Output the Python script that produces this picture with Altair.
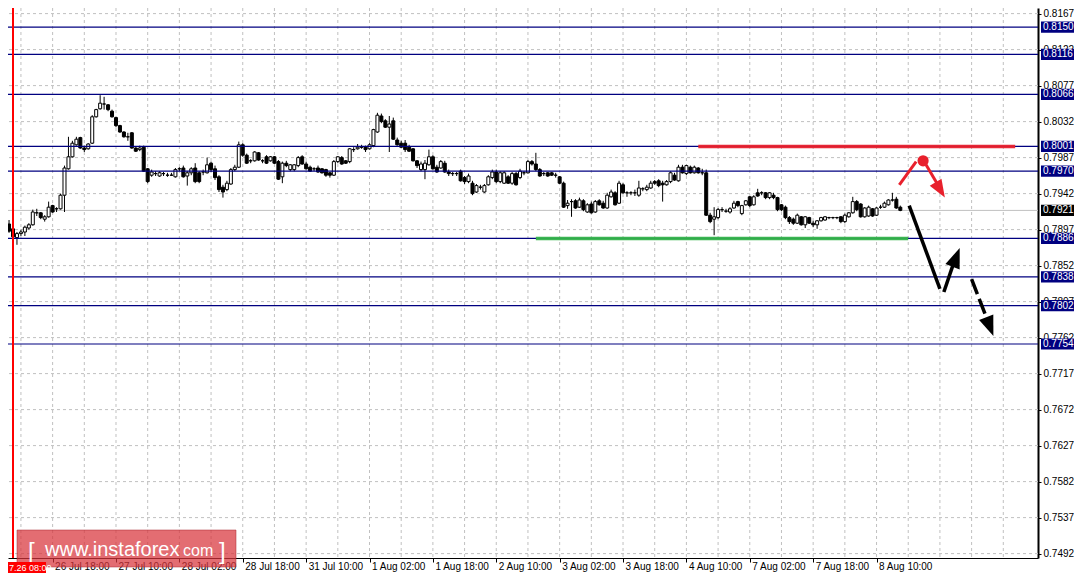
import json
import altair as alt
import pandas as pd

# ---------------- data (H1 bars, index 0 = 26 Jul 07:00) ----------------
OPEN = [
    0.7904, 0.7898, 0.7887, 0.7892, 0.7894, 0.7899, 0.7903, 0.7918, 0.7918, 0.7910,
    0.7913, 0.7927, 0.7923, 0.7923, 0.7940, 0.7973, 0.7988, 0.8003, 0.8012, 0.7999,
    0.7998, 0.8005, 0.8038, 0.8048, 0.8054, 0.8053, 0.8045, 0.8037, 0.8027, 0.8019,
    0.8013, 0.8018, 0.7999, 0.7997, 0.8000, 0.7973, 0.7965, 0.7967, 0.7964, 0.7967,
    0.7965, 0.7965, 0.7963, 0.7973, 0.7974, 0.7964, 0.7968, 0.7974, 0.7968, 0.7969,
    0.7968, 0.7980, 0.7973, 0.7963, 0.7950, 0.7947, 0.7954, 0.7972, 0.7975, 0.8003,
    0.7990, 0.7983, 0.7983, 0.7993, 0.7983, 0.7988, 0.7983, 0.7988, 0.7982, 0.7963,
    0.7980, 0.7972, 0.7972, 0.7977, 0.7988, 0.7979, 0.7975, 0.7973, 0.7974, 0.7973,
    0.7972, 0.7968, 0.7965, 0.7982, 0.7987, 0.7983, 0.7982, 0.7997, 0.7998, 0.8000,
    0.8000, 0.7998, 0.8002, 0.8019, 0.8039, 0.8033, 0.8025, 0.8033, 0.8009, 0.8005,
    0.8005, 0.8000, 0.7998, 0.7983, 0.7972, 0.7972, 0.7978, 0.7988, 0.7975, 0.7974,
    0.7980, 0.7969, 0.7967, 0.7967, 0.7970, 0.7962, 0.7957, 0.7955, 0.7944, 0.7950,
    0.7944, 0.7953, 0.7962, 0.7969, 0.7957, 0.7955, 0.7963, 0.7955, 0.7967, 0.7962,
    0.7968, 0.7968, 0.7982, 0.7979, 0.7972, 0.7967, 0.7968, 0.7968, 0.7965, 0.7963,
    0.7955, 0.7927, 0.7932, 0.7933, 0.7925, 0.7933, 0.7919, 0.7929, 0.7919, 0.7933,
    0.7930, 0.7924, 0.7938, 0.7943, 0.7930, 0.7953, 0.7943, 0.7943, 0.7943, 0.7940,
    0.7948, 0.7947, 0.7949, 0.7957, 0.7958, 0.7955, 0.7953, 0.7957, 0.7965, 0.7958,
    0.7975, 0.7967, 0.7975, 0.7968, 0.7974, 0.7968, 0.7968, 0.7915, 0.7910, 0.7912,
    0.7922, 0.7920, 0.7919, 0.7924, 0.7932, 0.7917, 0.7928, 0.7938, 0.7928, 0.7943,
    0.7943, 0.7943, 0.7937, 0.7940, 0.7937, 0.7928, 0.7925, 0.7912, 0.7910, 0.7905,
    0.7913, 0.7903, 0.7912, 0.7905, 0.7903, 0.7908, 0.7909, 0.7912, 0.7912, 0.7912,
    0.7913, 0.7907, 0.7913, 0.7918, 0.7932, 0.7929, 0.7913, 0.7914, 0.7923, 0.7915,
    0.7925, 0.7925, 0.7928, 0.7934, 0.7935, 0.7925,
]
HIGH = [
    0.7909, 0.7899, 0.7894, 0.7897, 0.7902, 0.7905, 0.7922, 0.7923, 0.7919, 0.7915,
    0.7932, 0.7928, 0.7925, 0.7942, 0.7977, 0.8013, 0.8008, 0.8013, 0.8013, 0.8002,
    0.8005, 0.8040, 0.8048, 0.8065, 0.8063, 0.8054, 0.8047, 0.8038, 0.8028, 0.8020,
    0.8018, 0.8019, 0.8000, 0.8002, 0.8002, 0.7974, 0.7972, 0.7970, 0.7970, 0.7969,
    0.7968, 0.7968, 0.7974, 0.7975, 0.7977, 0.7970, 0.7975, 0.7980, 0.7970, 0.7972,
    0.7987, 0.7982, 0.7977, 0.7965, 0.7953, 0.7958, 0.7974, 0.7978, 0.8007, 0.8005,
    0.7992, 0.7985, 0.7995, 0.7994, 0.7985, 0.7990, 0.7989, 0.7989, 0.7984, 0.7982,
    0.7983, 0.7979, 0.7979, 0.7989, 0.7990, 0.7982, 0.7977, 0.7975, 0.7977, 0.7974,
    0.7973, 0.7969, 0.7984, 0.7989, 0.7989, 0.7984, 0.7999, 0.8000, 0.8004, 0.8003,
    0.8002, 0.8005, 0.8023, 0.8043, 0.8042, 0.8035, 0.8039, 0.8037, 0.8012, 0.8008,
    0.8009, 0.8003, 0.7999, 0.7984, 0.7982, 0.7984, 0.7997, 0.7990, 0.7978, 0.7984,
    0.7983, 0.7972, 0.7969, 0.7969, 0.7972, 0.7964, 0.7967, 0.7958, 0.7954, 0.7953,
    0.7954, 0.7965, 0.7972, 0.7972, 0.7970, 0.7970, 0.7965, 0.7969, 0.7969, 0.7973,
    0.7970, 0.7984, 0.7984, 0.7993, 0.7974, 0.7969, 0.7969, 0.7969, 0.7968, 0.7964,
    0.7957, 0.7934, 0.7935, 0.7935, 0.7937, 0.7935, 0.7930, 0.7932, 0.7934, 0.7935,
    0.7933, 0.7943, 0.7947, 0.7945, 0.7958, 0.7955, 0.7945, 0.7945, 0.7947, 0.7958,
    0.7950, 0.7953, 0.7958, 0.7959, 0.7960, 0.7958, 0.7959, 0.7970, 0.7968, 0.7978,
    0.7978, 0.7978, 0.7977, 0.7977, 0.7975, 0.7973, 0.7972, 0.7918, 0.7925, 0.7924,
    0.7925, 0.7923, 0.7925, 0.7933, 0.7933, 0.7928, 0.7934, 0.7939, 0.7940, 0.7948,
    0.7945, 0.7944, 0.7944, 0.7943, 0.7938, 0.7929, 0.7927, 0.7914, 0.7912, 0.7917,
    0.7914, 0.7914, 0.7913, 0.7908, 0.7909, 0.7913, 0.7914, 0.7913, 0.7913, 0.7913,
    0.7914, 0.7917, 0.7919, 0.7938, 0.7934, 0.7930, 0.7925, 0.7927, 0.7924, 0.7925,
    0.7928, 0.7932, 0.7935, 0.7943, 0.7938, 0.7927,
]
LOW = [
    0.7893, 0.7887, 0.7878, 0.7889, 0.7889, 0.7897, 0.7902, 0.7914, 0.7910, 0.7907,
    0.7912, 0.7918, 0.7919, 0.7922, 0.7919, 0.7972, 0.7987, 0.8002, 0.7998, 0.7994,
    0.7997, 0.8004, 0.8037, 0.8047, 0.8047, 0.8045, 0.8037, 0.8025, 0.8018, 0.8012,
    0.8008, 0.7998, 0.7994, 0.7995, 0.7969, 0.7955, 0.7963, 0.7964, 0.7963, 0.7964,
    0.7963, 0.7964, 0.7962, 0.7970, 0.7962, 0.7952, 0.7965, 0.7955, 0.7955, 0.7965,
    0.7967, 0.7969, 0.7959, 0.7944, 0.7937, 0.7945, 0.7953, 0.7970, 0.7974, 0.7988,
    0.7979, 0.7980, 0.7982, 0.7983, 0.7980, 0.7979, 0.7982, 0.7979, 0.7959, 0.7955,
    0.7975, 0.7970, 0.7970, 0.7975, 0.7978, 0.7972, 0.7969, 0.7970, 0.7968, 0.7967,
    0.7963, 0.7962, 0.7964, 0.7980, 0.7978, 0.7979, 0.7980, 0.7994, 0.7997, 0.7998,
    0.7994, 0.7997, 0.8000, 0.8018, 0.8030, 0.8024, 0.7994, 0.8009, 0.8002, 0.7999,
    0.7994, 0.7994, 0.7982, 0.7974, 0.7970, 0.7960, 0.7977, 0.7972, 0.7968, 0.7973,
    0.7968, 0.7964, 0.7964, 0.7964, 0.7957, 0.7954, 0.7955, 0.7940, 0.7943, 0.7947,
    0.7943, 0.7952, 0.7960, 0.7955, 0.7955, 0.7954, 0.7954, 0.7953, 0.7952, 0.7960,
    0.7965, 0.7967, 0.7977, 0.7970, 0.7963, 0.7964, 0.7963, 0.7964, 0.7962, 0.7954,
    0.7924, 0.7923, 0.7913, 0.7923, 0.7924, 0.7920, 0.7918, 0.7917, 0.7918, 0.7927,
    0.7923, 0.7923, 0.7937, 0.7927, 0.7929, 0.7942, 0.7938, 0.7940, 0.7939, 0.7938,
    0.7945, 0.7945, 0.7948, 0.7953, 0.7950, 0.7932, 0.7952, 0.7955, 0.7958, 0.7957,
    0.7967, 0.7965, 0.7967, 0.7967, 0.7967, 0.7965, 0.7914, 0.7905, 0.7890, 0.7910,
    0.7919, 0.7918, 0.7917, 0.7923, 0.7925, 0.7915, 0.7927, 0.7925, 0.7927, 0.7938,
    0.7940, 0.7935, 0.7935, 0.7935, 0.7920, 0.7920, 0.7910, 0.7904, 0.7903, 0.7904,
    0.7902, 0.7899, 0.7904, 0.7900, 0.7898, 0.7907, 0.7908, 0.7910, 0.7910, 0.7910,
    0.7905, 0.7905, 0.7912, 0.7917, 0.7920, 0.7912, 0.7912, 0.7913, 0.7913, 0.7914,
    0.7923, 0.7924, 0.7927, 0.7932, 0.7923, 0.7920,
]
CLOSE = [
    0.7895, 0.7888, 0.7892, 0.7894, 0.7900, 0.7903, 0.7919, 0.7918, 0.7912, 0.7913,
    0.7925, 0.7919, 0.7923, 0.7940, 0.7974, 0.7988, 0.8005, 0.8010, 0.7999, 0.7997,
    0.8004, 0.8038, 0.8047, 0.8055, 0.8054, 0.8047, 0.8038, 0.8027, 0.8019, 0.8013,
    0.8013, 0.7999, 0.7995, 0.7999, 0.7970, 0.7957, 0.7969, 0.7967, 0.7968, 0.7967,
    0.7965, 0.7965, 0.7972, 0.7973, 0.7963, 0.7968, 0.7973, 0.7957, 0.7957, 0.7969,
    0.7978, 0.7972, 0.7962, 0.7947, 0.7944, 0.7955, 0.7972, 0.7975, 0.8003, 0.7990,
    0.7980, 0.7983, 0.7994, 0.7984, 0.7983, 0.7980, 0.7988, 0.7980, 0.7960, 0.7980,
    0.7977, 0.7978, 0.7978, 0.7987, 0.7979, 0.7973, 0.7970, 0.7973, 0.7969, 0.7968,
    0.7965, 0.7965, 0.7982, 0.7988, 0.7979, 0.7980, 0.7998, 0.7997, 0.8000, 0.8000,
    0.7997, 0.8003, 0.8022, 0.8040, 0.8032, 0.8025, 0.8029, 0.8010, 0.8003, 0.8000,
    0.7997, 0.7995, 0.7983, 0.7977, 0.7979, 0.7980, 0.7988, 0.7973, 0.7969, 0.7982,
    0.7969, 0.7967, 0.7967, 0.7967, 0.7958, 0.7957, 0.7964, 0.7942, 0.7952, 0.7950,
    0.7952, 0.7963, 0.7969, 0.7957, 0.7968, 0.7968, 0.7955, 0.7967, 0.7953, 0.7970,
    0.7968, 0.7982, 0.7979, 0.7972, 0.7964, 0.7967, 0.7964, 0.7965, 0.7965, 0.7955,
    0.7925, 0.7930, 0.7932, 0.7924, 0.7934, 0.7922, 0.7928, 0.7918, 0.7932, 0.7928,
    0.7924, 0.7940, 0.7944, 0.7928, 0.7955, 0.7943, 0.7943, 0.7943, 0.7943, 0.7949,
    0.7948, 0.7950, 0.7955, 0.7955, 0.7952, 0.7953, 0.7957, 0.7968, 0.7959, 0.7975,
    0.7968, 0.7977, 0.7968, 0.7975, 0.7968, 0.7968, 0.7915, 0.7907, 0.7913, 0.7922,
    0.7922, 0.7920, 0.7923, 0.7930, 0.7927, 0.7927, 0.7933, 0.7927, 0.7938, 0.7939,
    0.7943, 0.7937, 0.7943, 0.7937, 0.7922, 0.7922, 0.7912, 0.7907, 0.7905, 0.7915,
    0.7903, 0.7913, 0.7905, 0.7903, 0.7908, 0.7912, 0.7913, 0.7912, 0.7912, 0.7912,
    0.7907, 0.7915, 0.7918, 0.7932, 0.7922, 0.7913, 0.7924, 0.7925, 0.7914, 0.7924,
    0.7925, 0.7930, 0.7934, 0.7934, 0.7924, 0.7921,
]

TICK_BARS = [11, 27, 43, 59, 75, 91, 107, 123, 139, 155, 171, 187, 203, 219]
TICK_LABELS = ["26 Jul 18:00", "27 Jul 10:00", "28 Jul 02:00", "28 Jul 18:00",
               "31 Jul 10:00", "1 Aug 02:00", "1 Aug 18:00", "2 Aug 10:00",
               "3 Aug 02:00", "3 Aug 18:00", "4 Aug 10:00", "7 Aug 02:00",
               "7 Aug 18:00", "8 Aug 10:00"]
GRID_BARS = list(range(3, 259, 8))
Y_TICKS = [0.8167, 0.8122, 0.8077, 0.8032, 0.7987, 0.7942, 0.7897, 0.7852,
           0.7807, 0.7762, 0.7717, 0.7672, 0.7627, 0.7582, 0.7537, 0.7492]
LEVELS = [0.8150, 0.8116, 0.8066, 0.8001, 0.7970, 0.7886, 0.7838, 0.7802, 0.7754]
CURRENT = 0.7921
CURSOR_BAR = 1
CURSOR_LABEL = "7.26 08:00"

ZONE_START = [174, 133]
ZONE_END = [254, 227]
ZONE_PRICE = [0.8001, 0.7886]

RED_SEG_BAR = [224.75, 229.0, 231.5, 234.25]
RED_SEG_PRICE = [0.7953, 0.7982, 0.7978, 0.7955]
RED_SEG_ID = ["a", "a", "b", "b"]
RED_DOT_BAR = [230.75]
RED_DOT_PRICE = [0.7983]
BLK_SEG_BAR = [227.25, 235.0, 236.0, 238.25]
BLK_SEG_PRICE = [0.7927, 0.7823, 0.7819, 0.7852]
BLK_SEG_ID = ["a", "a", "b", "b"]
DASH_BAR = [243.0, 246.75]
DASH_PRICE = [0.7835, 0.7787]
HEAD_BAR = [236.25, 240.0, 248.5]
HEAD_PRICE = [0.7937, 0.7874, 0.7764]
HEAD_ANGLE = [149, 21, 159]
HEAD_KIND = ["red", "black", "black"]

# ---------------- layout ----------------
W, H = 1030, 550
X0 = float(CURSOR_BAR)
X1 = X0 + W / 4
Y1 = 0.8174
Y0 = Y1 - H / 8000

FONT = "Liberation Sans"
NAVY = "#000080"
RED = "#e8202c"
GREEN = "#34b34a"
GRIDC = "#c0c0c0"

xs = alt.Scale(domain=[X0, X1], nice=False, zero=False)
ys = alt.Scale(domain=[Y0, Y1], nice=False, zero=False)

label_expr = json.dumps(TICK_LABELS) + "[round((datum.value - 11) / 16)]"
x_axis = alt.Axis(values=TICK_BARS, labelExpr=label_expr, title=None, grid=False,
                  domainColor="black", domainWidth=1, tickColor="black", tickSize=4,
                  labelAlign="left", labelOffset=2, labelPadding=-1, labelBaseline="top",
                  labelFont=FONT, labelFontSize=10, labelColor="black",
                  labelOverlap=False, labelFlush=False)
y_axis = alt.Axis(orient="right", values=Y_TICKS, labelExpr="format(datum.value, '.4f')",
                  title=None, grid=False, domainColor="black", domainWidth=2,
                  tickColor="black", tickSize=3, labelPadding=2, labelFont=FONT,
                  labelFontSize=10, labelColor="black", labelOverlap=False, labelFlush=False)


def X(field):
    return alt.X(field, scale=xs, axis=x_axis)


def Y(field):
    return alt.Y(field, scale=ys, axis=y_axis)


candles = pd.DataFrame({"bar": list(range(len(OPEN))), "open": OPEN, "high": HIGH,
                        "low": LOW, "close": CLOSE})

vgrid = alt.Chart(pd.DataFrame({"bar": GRID_BARS})).mark_rule(
    color=GRIDC, strokeDash=[3, 3], strokeWidth=1, clip=True
).encode(x=X("bar:Q"))

hgrid = alt.Chart(pd.DataFrame({"price": Y_TICKS})).mark_rule(
    color=GRIDC, strokeDash=[3, 3], strokeWidth=1
).encode(y=Y("price:Q"))

cur_line = alt.Chart(pd.DataFrame({"price": [CURRENT]})).mark_rule(
    color=GRIDC, strokeWidth=1
).encode(y=Y("price:Q"))

cursor = alt.Chart(pd.DataFrame({"bar": [CURSOR_BAR]})).mark_rule(
    color="red", strokeWidth=2
).encode(x=X("bar:Q"))

wicks = alt.Chart(candles).mark_rule(color="black", strokeWidth=1, clip=True).encode(
    x=X("bar:Q"), y=Y("low:Q"), y2="high:Q",
)

bodies = alt.Chart(candles).mark_bar(size=3, stroke="black", strokeWidth=1, clip=True).encode(
    x=X("bar:Q"), y=Y("open:Q"), y2="close:Q",
    fill=alt.condition("datum.close > datum.open", alt.value("white"), alt.value("black")),
)

levels = alt.Chart(pd.DataFrame({"price": LEVELS})).mark_rule(
    color=NAVY, strokeWidth=1.2
).encode(y=Y("price:Q"))

zones = alt.Chart(pd.DataFrame({"b0": ZONE_START, "b1": ZONE_END, "price": ZONE_PRICE,
                                "col": [RED, GREEN]})).mark_rule(
    strokeWidth=3.5, opacity=0.95
).encode(
    x=X("b0:Q"), x2="b1:Q", y=Y("price:Q"),
    color=alt.Color("col:N", scale=None),
)

red_lines = alt.Chart(pd.DataFrame({"bar": RED_SEG_BAR, "price": RED_SEG_PRICE,
                                    "seg": RED_SEG_ID})).mark_line(
    color=RED, strokeWidth=3
).encode(x=X("bar:Q"), y=Y("price:Q"), detail="seg:N")

red_dot = alt.Chart(pd.DataFrame({"bar": RED_DOT_BAR, "price": RED_DOT_PRICE})).mark_point(
    filled=True, color=RED, size=125, opacity=1
).encode(x=X("bar:Q"), y=Y("price:Q"))

blk_lines = alt.Chart(pd.DataFrame({"bar": BLK_SEG_BAR, "price": BLK_SEG_PRICE,
                                    "seg": BLK_SEG_ID})).mark_line(
    color="black", strokeWidth=3.5
).encode(x=X("bar:Q"), y=Y("price:Q"), detail="seg:N")

dash_line = alt.Chart(pd.DataFrame({"bar": DASH_BAR, "price": DASH_PRICE})).mark_line(
    color="black", strokeWidth=3.5, strokeDash=[16, 5]
).encode(x=X("bar:Q"), y=Y("price:Q"))

heads_df = pd.DataFrame({"bar": HEAD_BAR, "price": HEAD_PRICE, "angle": HEAD_ANGLE,
                         "kind": HEAD_KIND})
heads = alt.Chart(heads_df).transform_calculate(
    col="datum.kind == 'red' ? '" + RED + "' : 'black'",
    sz="datum.kind == 'red' ? 1296 : 1600",
).mark_point(
    shape="M0,0L0.38,1L-0.38,1Z", filled=True, opacity=1, strokeWidth=0
).encode(
    x=X("bar:Q"), y=Y("price:Q"),
    angle=alt.Angle("angle:Q", scale=None),
    color=alt.Color("col:N", scale=None),
    size=alt.Size("sz:Q", scale=None),
)

tags_df = pd.DataFrame({"price": LEVELS + [CURRENT],
                        "kind": ["level"] * len(LEVELS) + ["current"]})
tag_base = alt.Chart(tags_df).transform_calculate(
    top="datum.price + 0.0007", bot="datum.price - 0.0007",
    lab="format(datum.price, '.4f')",
    col="datum.kind == 'current' ? 'black' : '" + NAVY + "'",
)
tag_box = tag_base.mark_rect().encode(
    x=alt.value(W + 3), x2=alt.value(W + 36),
    y=Y("top:Q"), y2="bot:Q",
    fill=alt.Color("col:N", scale=None),
)
tag_txt = tag_base.mark_text(align="left", baseline="middle", font=FONT, fontSize=10,
                             color="white").encode(
    x=alt.value(W + 5), y=Y("price:Q"), text="lab:N")

one = pd.DataFrame({"k": [0]})
wm_box = alt.Chart(one).mark_rect(fill="#d8343c", fillOpacity=0.72, stroke="#a82a30",
                                  strokeOpacity=0.5, strokeWidth=1).encode(
    x=alt.value(9), x2=alt.value(228), y=alt.value(522), y2=alt.value(559))
wm_l = alt.Chart(one).mark_text(text="[", align="left", baseline="alphabetic", font=FONT,
                                fontSize=24, color="white").encode(
    x=alt.value(20), y=alt.value(551))
wm_main = alt.Chart(one).mark_text(text="www.instaforex", align="left", baseline="alphabetic",
                                   font=FONT, fontSize=20, color="white").encode(
    x=alt.value(37), y=alt.value(548))
wm_com = alt.Chart(one).mark_text(text="com", align="left", baseline="alphabetic",
                                  font=FONT, fontSize=16, color="white").encode(
    x=alt.value(175), y=alt.value(548))
wm_r = alt.Chart(one).mark_text(text="]", align="left", baseline="alphabetic", font=FONT,
                                fontSize=24, color="white").encode(
    x=alt.value(211), y=alt.value(551))

cur_box = alt.Chart(one).mark_rect(fill="#ff0000").encode(
    x=alt.value(0), x2=alt.value(38), y=alt.value(H + 4), y2=alt.value(H + 15))
cur_txt = alt.Chart(one).mark_text(text=CURSOR_LABEL, align="left", baseline="middle",
                                   font=FONT, fontSize=9, color="white").encode(
    x=alt.value(1), y=alt.value(H + 10))

chart = alt.layer(
    vgrid, hgrid, cur_line, wicks, bodies, levels, zones, cursor,
    red_lines, red_dot, blk_lines, dash_line, heads,
    tag_box, tag_txt, wm_box, wm_l, wm_main, wm_com, wm_r, cur_box, cur_txt,
).properties(
    width=W, height=H,
    autosize=alt.AutoSizeParams(type="none"),
    padding={"left": 0, "top": 0, "right": 36, "bottom": 15},
    background="white",
).configure_view(stroke=None)

chart.save("out.html", embed_options={"renderer": "svg", "actions": False})
